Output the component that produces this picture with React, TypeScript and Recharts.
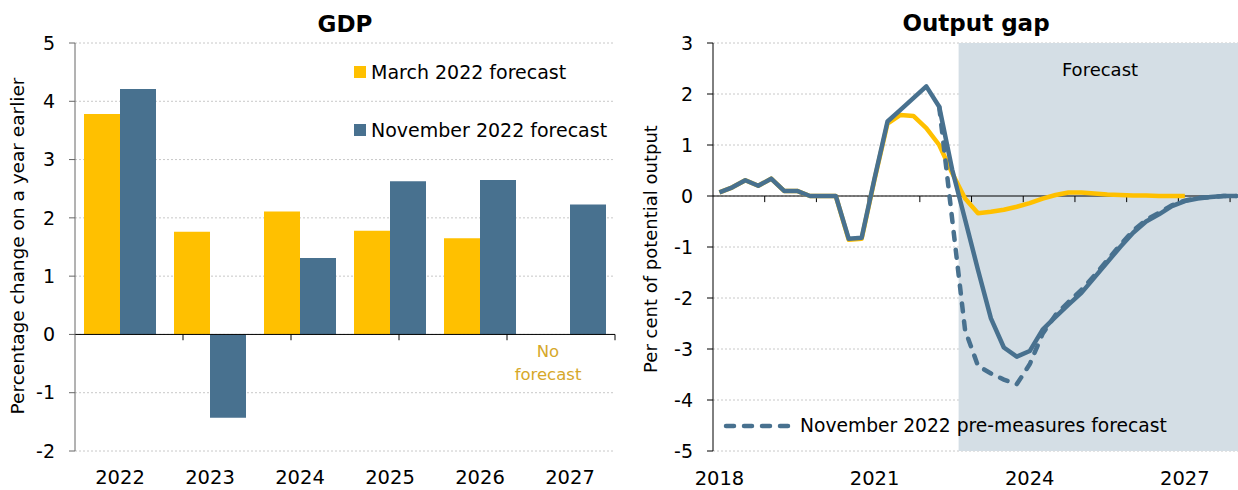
import React from "react";
import {
  BarChart,
  Bar,
  LineChart,
  Line,
  XAxis,
  YAxis,
  CartesianGrid,
  ReferenceLine,
  ReferenceArea,
} from "recharts";

// GDP panel
const years = ["2022", "2023", "2024", "2025", "2026", "2027"];
const gdpMarch = [3.78, 1.76, 2.11, 1.78, 1.65, null];
const gdpNovember = [4.21, -1.43, 1.31, 2.63, 2.65, 2.23];
const gdpTicks = [-2, -1, 0, 1, 2, 3, 4, 5];

// Output gap panel (quarterly)
const quarters = [
  "2018Q1", "2018Q2", "2018Q3", "2018Q4",
  "2019Q1", "2019Q2", "2019Q3", "2019Q4",
  "2020Q1", "2020Q2", "2020Q3", "2020Q4",
  "2021Q1", "2021Q2", "2021Q3", "2021Q4",
  "2022Q1", "2022Q2", "2022Q3", "2022Q4",
  "2023Q1", "2023Q2", "2023Q3", "2023Q4",
  "2024Q1", "2024Q2", "2024Q3", "2024Q4",
  "2025Q1", "2025Q2", "2025Q3", "2025Q4",
  "2026Q1", "2026Q2", "2026Q3", "2026Q4",
  "2027Q1", "2027Q2", "2027Q3", "2027Q4",
  "2028Q1",
];
const gapMarch = [
  0.07, 0.17, 0.31, 0.2, 0.34, 0.1, 0.1, 0.0, 0.0, 0.0, -0.86, -0.84,
  0.33, 1.42, 1.59, 1.57, 1.33, 1.0, 0.45, -0.05, -0.34, -0.31, -0.27, -0.21,
  -0.14, -0.05, 0.02, 0.07, 0.07, 0.05, 0.03, 0.02, 0.01, 0.01, 0.0, 0.0,
  0.0,
];
const gapNovember = [
  0.07, 0.17, 0.31, 0.2, 0.34, 0.1, 0.1, 0.0, 0.0, 0.0, -0.84, -0.82,
  0.35, 1.46, 1.69, 1.92, 2.15, 1.75, 0.52, -0.46, -1.45, -2.4, -2.97, -3.15,
  -3.04, -2.62, -2.37, -2.13, -1.9, -1.6, -1.3, -1.0, -0.72, -0.5, -0.36, -0.2,
  -0.1, -0.05, -0.02, 0.0, 0.0,
];
const gapPreMeasures = [
  null, null, null, null, null, null, null, null, null, null, null, null,
  null, null, null, null, null, 1.75, -0.45, -2.63, -3.33, -3.48, -3.6, -3.69,
  -3.3, -2.7, -2.33, -2.08, -1.84, -1.56, -1.26, -0.96, -0.68, -0.47, -0.33, -0.18,
  -0.09, -0.04, -0.02, 0.0, 0.0,
];
const gapTicks = [-5, -4, -3, -2, -1, 0, 1, 2, 3];
const gapYearLabels = ["2018", "2021", "2024", "2027"];
const forecastStart = "2022Q4";

const FONT = '"DejaVu Sans", sans-serif';
const YELLOW = "#FFC000";
const BLUE = "#48718F";
const SHADE = "#D4DEE5";
const GRID = "#c8c8c8";
const GOLD = "#D6A82A";

const gdpData = years.map((y, i) => ({
  year: y,
  march: gdpMarch[i],
  november: gdpNovember[i],
}));

const gapData = quarters.map((q, i) => ({
  q: i,
  march: gapMarch[i] ?? null,
  november: gapNovember[i] ?? null,
  pre: gapPreMeasures[i] ?? null,
}));

const gapLabelTicks = quarters
  .map((q, i) => (q.endsWith("Q1") && gapYearLabels.includes(q.slice(0, 4)) ? i : -1))
  .filter((i) => i >= 0);
const gapYearBounds = quarters.flatMap((q, i) => (q.endsWith("Q4") ? [i + 0.5] : []));
const forecastX = quarters.indexOf(forecastStart) - 0.5;
const gdpBounds = years.map((_, i) => i + 1);

const yTick = { fontSize: 19, fill: "#000", fontFamily: FONT };
const xTick = { fontSize: 19.5, fill: "#000", fontFamily: FONT };

function GdpChart() {
  return (
    <BarChart
      width={620}
      height={490}
      data={gdpData}
      margin={{ top: 43, right: 5, bottom: 0, left: 0 }}
      barCategoryGap="10%"
      barGap={0}
    >
      <CartesianGrid vertical={false} stroke={GRID} strokeDasharray="2 2" />
      <XAxis
        dataKey="year"
        height={39}
        axisLine={false}
        tickLine={false}
        tickSize={0}
        tickMargin={19}
        tick={xTick}
      />
      <XAxis xAxisId="b" type="number" domain={[0, 6]} hide />
      <YAxis
        width={75}
        domain={[-2, 5]}
        ticks={gdpTicks}
        interval={0}
        axisLine={{ stroke: "#666" }}
        tickLine={{ stroke: "#666" }}
        tickSize={6}
        tickMargin={14}
        tick={yTick}
      />
      <Bar dataKey="march" fill={YELLOW} isAnimationActive={false} />
      <Bar dataKey="november" fill={BLUE} isAnimationActive={false} />
      <ReferenceLine y={0} stroke="#000" strokeWidth={1} />
      {gdpBounds.map((b) => (
        <ReferenceLine
          key={b}
          xAxisId="b"
          segment={[
            { x: b, y: 0 },
            { x: b, y: -0.1 },
          ]}
          stroke="#000"
          strokeWidth={1}
        />
      ))}
    </BarChart>
  );
}

function GapChart() {
  return (
    <LineChart
      width={603}
      height={490}
      data={gapData}
      margin={{ top: 43, right: 0, bottom: 0, left: 0 }}
    >
      <ReferenceArea
        x1={forecastX}
        x2={quarters.length - 0.5}
        y1={-5}
        y2={3}
        fill={SHADE}
        fillOpacity={1}
        stroke="none"
      />
      <CartesianGrid vertical={false} stroke={GRID} strokeDasharray="2 2" />
      <XAxis
        dataKey="q"
        type="number"
        domain={[-0.5, quarters.length - 0.5]}
        ticks={gapLabelTicks}
        interval={0}
        tickFormatter={(v) => quarters[v].slice(0, 4)}
        height={39}
        axisLine={false}
        tickLine={false}
        tickSize={0}
        tickMargin={20}
        tick={xTick}
      />
      <YAxis
        width={73}
        domain={[-5, 3]}
        ticks={gapTicks}
        interval={0}
        axisLine={{ stroke: "#000" }}
        tickLine={{ stroke: "#000" }}
        tickSize={6}
        tickMargin={14}
        tick={yTick}
      />
      <ReferenceLine y={0} stroke="#000" strokeWidth={1} />
      {gapYearBounds.map((b) => (
        <ReferenceLine
          key={b}
          segment={[
            { x: b, y: 0 },
            { x: b, y: -0.12 },
          ]}
          stroke="#000"
          strokeWidth={1}
        />
      ))}
      <Line
        dataKey="march"
        type="linear"
        stroke={YELLOW}
        strokeWidth={4.5}
        dot={false}
        strokeLinejoin="round"
        isAnimationActive={false}
      />
      <Line
        dataKey="pre"
        type="linear"
        stroke={BLUE}
        strokeWidth={4.5}
        strokeDasharray="8 10"
        strokeLinecap="round"
        dot={false}
        isAnimationActive={false}
      />
      <Line
        dataKey="november"
        type="linear"
        stroke={BLUE}
        strokeWidth={4.5}
        dot={false}
        strokeLinejoin="round"
        isAnimationActive={false}
      />
    </LineChart>
  );
}

export default function App() {
  return (
    <div
      style={{
        position: "absolute",
        left: 0,
        top: 0,
        width: 1238,
        height: 490,
        overflow: "hidden",
        background: "#fff",
        fontFamily: FONT,
      }}
    >
      <div style={{ position: "absolute", left: 0, top: 0 }}>
        <GdpChart />
      </div>
      <div style={{ position: "absolute", left: 640, top: 0 }}>
        <GapChart />
      </div>
      <svg
        width={1238}
        height={490}
        style={{ position: "absolute", left: 0, top: 0, pointerEvents: "none" }}
        fontFamily={FONT}
      >
        <text x={345} y={32} textAnchor="middle" fontSize={23} fontWeight="bold" fill="#000">
          GDP
        </text>
        <text x={976} y={31} textAnchor="middle" fontSize={23} fontWeight="bold" fill="#000">
          Output gap
        </text>
        <text
          transform="translate(24,246) rotate(-90)"
          textAnchor="middle"
          fontSize={18.5}
          fill="#000"
        >
          Percentage change on a year earlier
        </text>
        <text
          transform="translate(657,249) rotate(-90)"
          textAnchor="middle"
          fontSize={18}
          fill="#000"
        >
          Per cent of potential output
        </text>
        <rect x={354} y={66} width={12} height={12} fill={YELLOW} />
        <text x={371} y={79} fontSize={19} fill="#000">
          March 2022 forecast
        </text>
        <rect x={354} y={124} width={12} height={12} fill={BLUE} />
        <text x={371} y={137} fontSize={19} fill="#000">
          November 2022 forecast
        </text>
        <text x={548} y={357} textAnchor="middle" fontSize={16.5} fill={GOLD}>
          No
        </text>
        <text x={548} y={380} textAnchor="middle" fontSize={16.5} fill={GOLD}>
          forecast
        </text>
        <text x={1100} y={76} textAnchor="middle" fontSize={18} fill="#000">
          Forecast
        </text>
        <line
          x1={726}
          x2={792}
          y1={426}
          y2={426}
          stroke={BLUE}
          strokeWidth={4.5}
          strokeDasharray="8 10"
          strokeLinecap="round"
        />
        <text x={800} y={432} fontSize={18.7} fill="#000">
          November 2022 pre-measures forecast
        </text>
      </svg>
    </div>
  );
}
